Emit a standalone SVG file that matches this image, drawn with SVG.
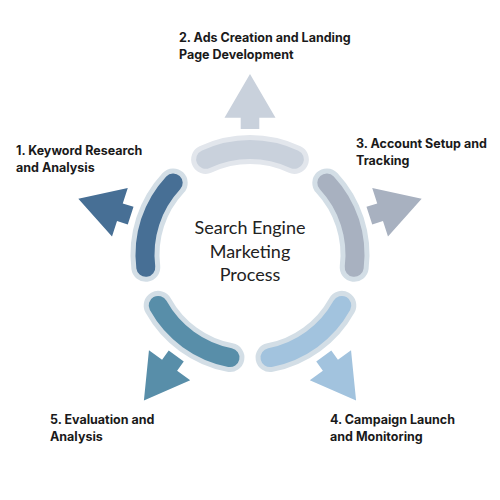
<svg xmlns="http://www.w3.org/2000/svg" xmlns:xlink="http://www.w3.org/1999/xlink" width="500" height="500" viewBox="0 0 500 500">
  <style>
    .lbl { font-family: Inter, "Liberation Sans", sans-serif; font-weight: 700; font-size: 12.5px; fill: #1a1a1a; }
    .ctr { font-family: Lato, "Liberation Sans", sans-serif; font-size: 18px; fill: #222222; text-anchor: middle; }
    .halo { fill: none; stroke: #d3dee6; stroke-width: 29; stroke-linecap: round; }
    .band { fill: none; stroke-width: 19; stroke-linecap: round; }
  </style>
  <defs>
    <path id="arc" d="M-44.37,-95.16 A105,105 0 0 1 44.37,-95.16"/>
    <polygon id="arrow" points="0,-180.5 25.5,-136.8 9.3,-136.8 9.3,-125.5 -9.3,-125.5 -9.3,-136.8 -25.5,-136.8"/>
  </defs>
  <rect width="500" height="500" fill="#ffffff"/>

  <g id="connectors" transform="translate(250,254.5)">
    <use xlink:href="#arrow" href="#arrow" fill="#c9d1dc"/>
    <use xlink:href="#arrow" href="#arrow" fill="#a8b1c0" transform="rotate(72)"/>
    <use xlink:href="#arrow" href="#arrow" fill="#a2c3de" transform="rotate(144)"/>
    <use xlink:href="#arrow" href="#arrow" fill="#588ea9" transform="rotate(216)"/>
    <use xlink:href="#arrow" href="#arrow" fill="#476f95" transform="rotate(288)"/>
  </g>

  <g id="step2" transform="translate(250,254.5)">
    <use xlink:href="#arc" href="#arc" class="halo" style="stroke:#e2e6ec"/>
    <use xlink:href="#arc" href="#arc" class="band" stroke="#c9d1dc"/>
  </g>
  <g id="step3" transform="translate(250,254.5) rotate(72)">
    <use xlink:href="#arc" href="#arc" class="halo"/>
    <use xlink:href="#arc" href="#arc" class="band" stroke="#a8b1c0"/>
  </g>
  <g id="step4" transform="translate(250,254.5) rotate(144)">
    <use xlink:href="#arc" href="#arc" class="halo"/>
    <use xlink:href="#arc" href="#arc" class="band" stroke="#a2c3de"/>
  </g>
  <g id="step5" transform="translate(250,254.5) rotate(216)">
    <use xlink:href="#arc" href="#arc" class="halo"/>
    <use xlink:href="#arc" href="#arc" class="band" stroke="#588ea9"/>
  </g>
  <g id="step1" transform="translate(250,254.5) rotate(288)">
    <use xlink:href="#arc" href="#arc" class="halo"/>
    <use xlink:href="#arc" href="#arc" class="band" stroke="#476f95"/>
  </g>

  <g id="center">
    <text class="ctr" x="250" y="234.3">Search Engine</text>
    <text class="ctr" x="250" y="257.5">Marketing</text>
    <text class="ctr" x="250" y="280.5">Process</text>
  </g>

  <g id="label1">
    <text class="lbl" x="16" y="155">1. Keyword Research</text>
    <text class="lbl" x="16" y="171.5">and Analysis</text>
  </g>
  <g id="label2">
    <text class="lbl" x="179" y="42.3">2. Ads Creation and Landing</text>
    <text class="lbl" x="179" y="58.5">Page Development</text>
  </g>
  <g id="label3">
    <text class="lbl" x="356" y="148.3">3. Account Setup and</text>
    <text class="lbl" x="356" y="164.5">Tracking</text>
  </g>
  <g id="label4">
    <text class="lbl" x="330" y="424">4. Campaign Launch</text>
    <text class="lbl" x="330" y="440.7">and Monitoring</text>
  </g>
  <g id="label5">
    <text class="lbl" x="50" y="424">5. Evaluation and</text>
    <text class="lbl" x="50" y="440.7">Analysis</text>
  </g>
</svg>
